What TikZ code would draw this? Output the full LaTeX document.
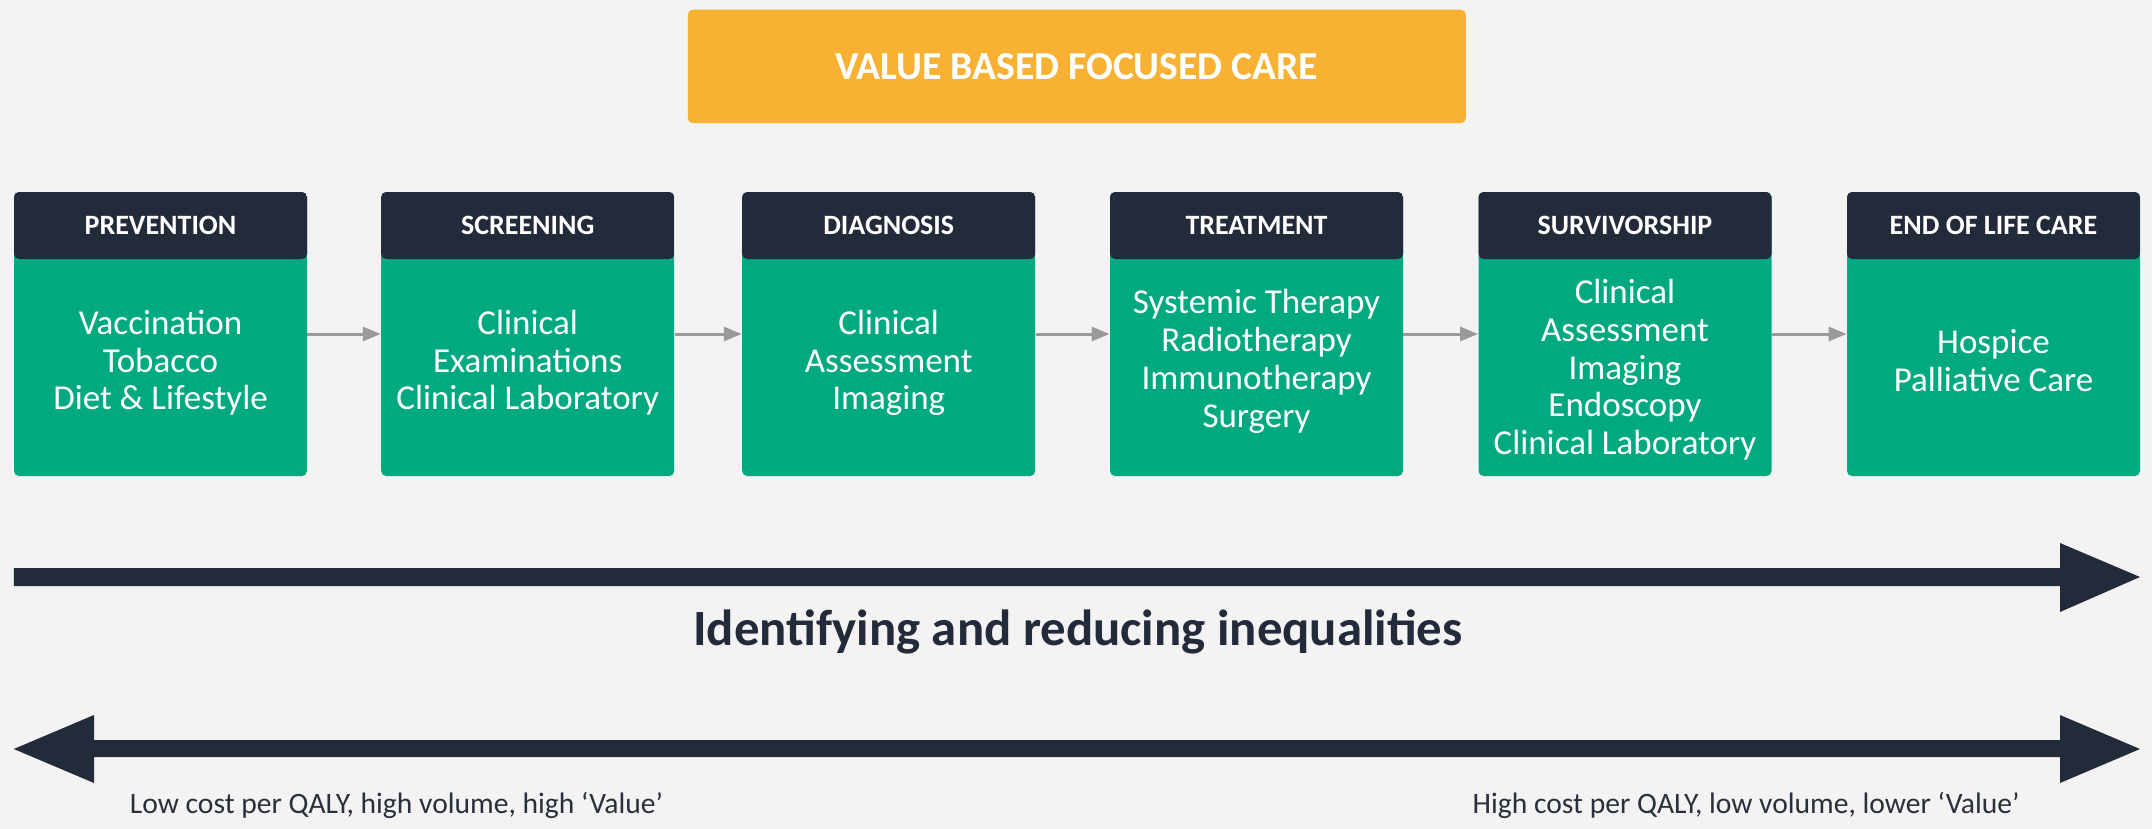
\documentclass[tikz,border=0pt]{standalone}
\usepackage{fontspec}
\setmainfont{Carlito}
\usetikzlibrary{arrows.meta}
\definecolor{bgcol}{HTML}{F3F3F3}
\definecolor{navy}{HTML}{232B3A}
\definecolor{teal}{HTML}{00A97F}
\definecolor{amber}{HTML}{F8B133}
\definecolor{linkgray}{HTML}{9A9A9A}
\definecolor{notegray}{HTML}{2A303B}
\begin{document}
\begin{tikzpicture}[x=0.5pt,y=-0.5pt,
  stagebox/.style={rectangle, rounded corners=2.5pt, fill=teal,
    minimum width=146.5pt, minimum height=142pt, inner sep=0pt,
    path picture={\fill[navy] (path picture bounding box.north west)
      rectangle ([yshift=-33.5pt]path picture bounding box.north east);}},
  headtxt/.style={text=white, font=\fontsize{14}{16}\selectfont\bfseries, inner sep=0pt},
  % equal struts above the first and below the last line, so the node
  % centre lies midway between the first and last baselines
  bodytxt/.style={text=white, align=center, inner sep=0pt,
    font=\fontsize{17.5}{18.9}\selectfont,
    execute at begin node={\rule{0pt}{13pt}},
    execute at end node={\rule[-13pt]{0pt}{0pt}}},
  link/.style={draw=linkgray, line width=1.5pt, -{Triangle[length=9pt,width=7pt]}},
  bigarrow/.style={fill=navy},
  note/.style={text=notegray, font=\fontsize{14.8}{17}\selectfont, inner sep=0pt}
]
% canvas
\fill[bgcol] (0,0) rectangle (2152,829);
\useasboundingbox (0,0) rectangle (2152,829);

% title banner
\node[fill=amber, rounded corners=2.5pt, minimum width=389pt, minimum height=56.75pt,
  text=white, font=\fontsize{19.8}{22}\selectfont\bfseries] (title) at (1076.8,66.5)
  {VALUE BASED FOCUSED CARE};

% stages of the pathway
\node[stagebox] (s1) at (160.5,334) {};
\node[stagebox] (s2) at (527.7,334) {};
\node[stagebox] (s3) at (888.7,334) {};
\node[stagebox] (s4) at (1256.5,334) {};
\node[stagebox] (s5) at (1625,334) {};
\node[stagebox] (s6) at (1993.5,334) {};

\node[headtxt] (h1) at (160.5,225.5) {PREVENTION};
\node[headtxt] (h2) at (527.7,225.5) {SCREENING};
\node[headtxt] (h3) at (888.7,225.5) {DIAGNOSIS};
\node[headtxt] (h4) at (1256.5,225.5) {TREATMENT};
\node[headtxt] (h5) at (1625,225.5) {SURVIVORSHIP};
\node[headtxt] (h6) at (1993.5,225.5) {END OF LIFE CARE};

\node[bodytxt] (b1) at (160.5,373) {Vaccination\\Tobacco\\Diet \& Lifestyle};
\node[bodytxt] (b2) at (527.7,373) {Clinical\\Examinations\\Clinical Laboratory};
\node[bodytxt] (b3) at (888.7,373) {Clinical\\Assessment\\Imaging};
\node[bodytxt] (b4) at (1256.5,371.5) {Systemic Therapy\\Radiotherapy\\Immunotherapy\\Surgery};
\node[bodytxt] (b5) at (1625,380) {Clinical\\Assessment\\Imaging\\Endoscopy\\Clinical Laboratory};
\node[bodytxt] (b6) at (1993.5,373.5) {Hospice\\Palliative Care};

\draw[link] (s1.east) -- (s2.west);
\draw[link] (s2.east) -- (s3.west);
\draw[link] (s3.east) -- (s4.west);
\draw[link] (s4.east) -- (s5.west);
\draw[link] (s5.east) -- (s6.west);

% inequalities arrow
\fill[bigarrow] (13.8,568) -- (2060,568) -- (2060,543) -- (2140,577)
  -- (2060,612) -- (2060,586) -- (13.8,586) -- cycle;
\node[text=navy, font=\fontsize{25.4}{30}\selectfont\bfseries, anchor=base, inner sep=0pt]
  (ineq) at (1078,645) {Identifying and reducing inequalities};

% value scale
\fill[bigarrow] (13.8,749) -- (94,715) -- (94,740) -- (2060,740) -- (2060,715)
  -- (2140,749) -- (2060,783) -- (2060,757) -- (94,757) -- (94,783) -- cycle;
\node[note, anchor=base west] (lowv) at (129.5,813) {Low cost per QALY, high volume, high ‘Value’};
\node[note, anchor=base east] (highv) at (2020,813) {High cost per QALY, low volume, lower ‘Value’};
\end{tikzpicture}
\end{document}
